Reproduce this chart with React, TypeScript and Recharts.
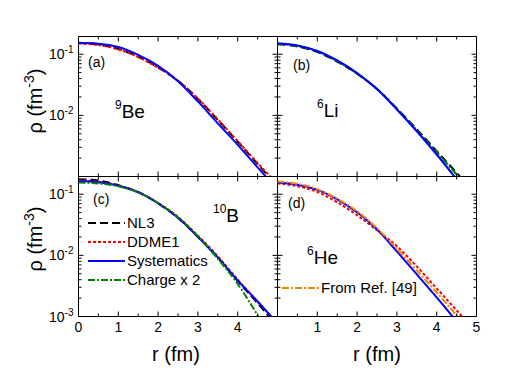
import React from 'react';
import { LineChart, Line, XAxis, YAxis, ReferenceArea } from 'recharts';

// radius grid (fm)
const radius = [0, 0.5, 1, 1.5, 2, 2.5, 3, 3.5, 4, 4.5, 5];

// (a) 9Be
const be9NL3 = [0.152, 0.144, 0.122, 0.091, 0.061, 0.0368, 0.0186, 0.0084, 0.0037, 0.0016, 0.0007];
const be9DDME1 = [0.15, 0.1415, 0.12, 0.09, 0.06, 0.0369, 0.0189, 0.0086, 0.0038, 0.00166, 0.00075];
const be9Sys = [0.154, 0.149, 0.131, 0.0975, 0.0646, 0.0362, 0.0169, 0.0074, 0.0033, 0.00141, 0.00061];

// (b) 6Li
const li6NL3 = [0.145, 0.134, 0.109, 0.076, 0.048, 0.0269, 0.013, 0.0059, 0.0026, 0.00115, 0.00049];
const li6Sys = [0.151, 0.139, 0.113, 0.079, 0.0492, 0.0269, 0.0125, 0.0055, 0.00229, 0.0009, 0.00034];
const li6Charge = [0.147, 0.136, 0.111, 0.077, 0.048, 0.027, 0.0128, 0.0057, 0.0025, 0.00108, 0.00045];

// (c) 10B
const b10NL3 = [0.176, 0.167, 0.141, 0.108, 0.071, 0.041, 0.02, 0.0091, 0.0038, 0.00165, 0.00068];
const b10DDME1 = [0.169, 0.16, 0.139, 0.108, 0.072, 0.0425, 0.021, 0.0097, 0.004, 0.00175, 0.00075];
const b10Sys = [0.165, 0.157, 0.138, 0.108, 0.0712, 0.0412, 0.0201, 0.00927, 0.00389, 0.00176, 0.00077];
const b10Charge = [0.155, 0.15, 0.135, 0.107, 0.0715, 0.042, 0.0205, 0.0088, 0.0034, 0.00105, 0.0003];

// (d) 6He
const he6DDME1 = [0.1496, 0.135, 0.109, 0.074, 0.0453, 0.0257, 0.0141, 0.0066, 0.00288, 0.00126, 0.00053];
const he6Sys = [0.155, 0.143, 0.118, 0.0827, 0.0507, 0.0267, 0.0116, 0.00489, 0.00205, 0.00083, 0.00032];
const he6Ref = [0.1614, 0.148, 0.121, 0.0844, 0.0526, 0.0277, 0.0128, 0.00568, 0.00247, 0.00104, 0.00042];

const xTicks = [0, 0.5, 1, 1.5, 2, 2.5, 3, 3.5, 4, 4.5, 5];
const yTicks = [
  0.001, 0.002, 0.003, 0.004, 0.005, 0.006, 0.007, 0.008, 0.009,
  0.01, 0.02, 0.03, 0.04, 0.05, 0.06, 0.07, 0.08, 0.09,
  0.1,
];
const Y_DOMAIN = [0.001, 0.195];

const FONT = '"Liberation Sans", Arial, Helvetica, sans-serif';
const PW = 199;
const PH = 140;

const STYLES: Record<string, { color: string; dash?: string; name: string }> = {
  nl3: { color: '#000000', dash: '8 4', name: 'NL3' },
  ddme1: { color: '#ff0000', dash: '3 2', name: 'DDME1' },
  sys: { color: '#0000ff', name: 'Systematics' },
  charge: { color: '#008000', dash: '7 2 2 2', name: 'Charge x 2' },
  ref49: { color: '#ff8000', dash: '7 2 2 2', name: 'From Ref. [49]' },
};

const makeRows = (series: Record<string, number[]>) =>
  radius.map((r, i) => {
    const row: Record<string, number> = { r };
    Object.keys(series).forEach((k) => (row[k] = series[k][i]));
    return row;
  });

const isMajorLog = (v: number) => Math.abs(Math.log10(v) - Math.round(Math.log10(v))) < 1e-6;

function Panel({ px, py, series, xLabels, yLabels }: any) {
  const rows = makeRows(series);
  const keys = Object.keys(series);

  const xTick = (p: any) => {
    const v = p.payload.value;
    const major = Number.isInteger(v);
    const len = major ? 5 : 3;
    const { x, y } = p;
    return (
      <g>
        <line x1={x} y1={y} x2={x} y2={y - len} stroke="#000" />
        <line x1={x} y1={y - PH} x2={x} y2={y - PH + len} stroke="#000" />
        {major && xLabels.includes(v) && (
          <text x={x} y={y + 15} textAnchor="middle" fontSize={14} fontFamily={FONT} fill="#000">
            {v}
          </text>
        )}
      </g>
    );
  };

  const yTick = (p: any) => {
    const v = p.payload.value;
    const major = isMajorLog(v);
    const len = major ? 5 : 3;
    const { x, y } = p;
    const exp = Math.round(Math.log10(v));
    return (
      <g>
        <line x1={x} y1={y} x2={x + len} y2={y} stroke="#000" />
        <line x1={x + PW} y1={y} x2={x + PW - len} y2={y} stroke="#000" />
        {major && yLabels.includes(exp) && (
          <text x={x - 5} y={y + 5} textAnchor="end" fontSize={14} fontFamily={FONT} fill="#000">
            10
            <tspan dy={-6} fontSize={10}>
              {exp}
            </tspan>
          </text>
        )}
      </g>
    );
  };

  return (
    <div style={{ position: 'absolute', left: px - 60, top: py - 10 }}>
      <LineChart
        width={270}
        height={190}
        data={rows}
        margin={{ top: 10.5, right: 10.5, bottom: 0, left: 0.5 }}
      >
        <XAxis
          dataKey="r"
          type="number"
          domain={[0, 5]}
          ticks={xTicks}
          interval={0}
          height={39.5}
          tickSize={0}
          tickMargin={0}
          tickLine={false}
          axisLine={false}
          tick={xTick}
        />
        <YAxis
          type="number"
          scale="log"
          domain={Y_DOMAIN}
          allowDataOverflow
          ticks={yTicks}
          interval={0}
          width={60}
          tickSize={0}
          tickMargin={0}
          tickLine={false}
          axisLine={false}
          tick={yTick}
        />
        <ReferenceArea x1={0} x2={5} y1={Y_DOMAIN[0]} y2={Y_DOMAIN[1]} stroke="#000" strokeWidth={1} fill="none" fillOpacity={0} />
        {keys.map((k) => (
          <Line
            key={k}
            dataKey={k}
            type="monotone"
            stroke={STYLES[k].color}
            strokeDasharray={STYLES[k].dash}
            strokeWidth={2}
            dot={false}
            isAnimationActive={false}
          />
        ))}
      </LineChart>
    </div>
  );
}

const LegendRow = ({ x, y, k }: any) => (
  <g>
    <line x1={x} y1={y} x2={x + 37} y2={y} stroke={STYLES[k].color} strokeWidth={2} strokeDasharray={STYLES[k].dash} />
    <text x={x + 39} y={y + 5} fontSize={15} fontFamily={FONT} fill="#000">
      {STYLES[k].name}
    </text>
  </g>
);

const Nucleus = ({ x, y, a, sym }: any) => (
  <text x={x} y={y} fontSize={19} fontFamily={FONT} fill="#000">
    <tspan fontSize={12} dy={-9}>
      {a}
    </tspan>
    <tspan dy={9}>{sym}</tspan>
  </text>
);

const YTitle = ({ x, y }: any) => (
  <text transform={`translate(${x},${y}) rotate(-90)`} textAnchor="middle" fontSize={20} fontFamily={FONT} fill="#000">
    ρ (fm
    <tspan dy={-8} fontSize={14}>
      -3
    </tspan>
    <tspan dy={8}>)</tspan>
  </text>
);

export default function App() {
  return (
    <div style={{ position: 'absolute', left: 0, top: 0, width: 529, height: 374, background: '#fff' }}>
      <Panel px={78} py={36} series={{ nl3: be9NL3, ddme1: be9DDME1, sys: be9Sys }} xLabels={[]} yLabels={[-1, -2]} />
      <Panel px={277} py={36} series={{ nl3: li6NL3, charge: li6Charge, sys: li6Sys }} xLabels={[]} yLabels={[]} />
      <Panel
        px={78}
        py={176}
        series={{ nl3: b10NL3, ddme1: b10DDME1, sys: b10Sys, charge: b10Charge }}
        xLabels={[0, 1, 2, 3, 4]}
        yLabels={[-1, -2, -3]}
      />
      <Panel px={277} py={176} series={{ ddme1: he6DDME1, sys: he6Sys, ref49: he6Ref }} xLabels={[1, 2, 3, 4, 5]} yLabels={[]} />

      <svg width={529} height={374} style={{ position: 'absolute', left: 0, top: 0, pointerEvents: 'none' }}>
        <YTitle x={42} y={101} />
        <YTitle x={42} y={239} />
        <text x={176} y={361} textAnchor="middle" fontSize={20} fontFamily={FONT}>r (fm)</text>
        <text x={377} y={361} textAnchor="middle" fontSize={20} fontFamily={FONT}>r (fm)</text>

        <text x={88} y={67} fontSize={14} fontFamily={FONT}>(a)</text>
        <text x={293} y={70} fontSize={14} fontFamily={FONT}>(b)</text>
        <text x={93} y={204} fontSize={14} fontFamily={FONT}>(c)</text>
        <text x={288} y={208} fontSize={14} fontFamily={FONT}>(d)</text>

        <Nucleus x={115} y={118} a="9" sym="Be" />
        <Nucleus x={317} y={117} a="6" sym="Li" />
        <Nucleus x={213} y={222} a="10" sym="B" />
        <Nucleus x={307} y={264} a="6" sym="He" />

        <LegendRow x={88} y={223} k="nl3" />
        <LegendRow x={88} y={242} k="ddme1" />
        <LegendRow x={88} y={261} k="sys" />
        <LegendRow x={88} y={280} k="charge" />
        <LegendRow x={282} y={288} k="ref49" />
      </svg>
    </div>
  );
}
